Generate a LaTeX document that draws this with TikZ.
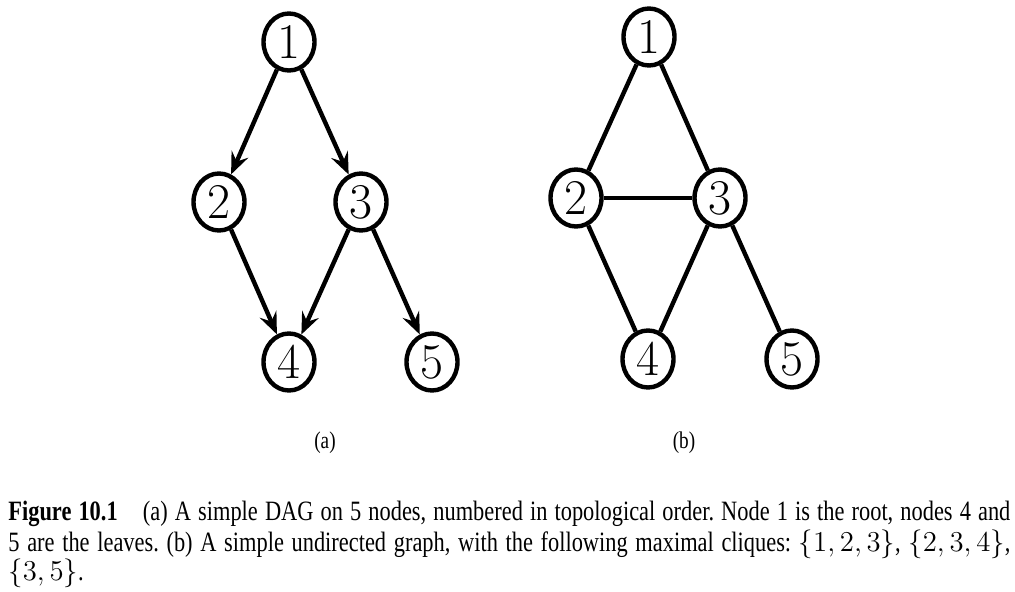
\documentclass[tikz,border=0pt]{standalone}
\usepackage{fontspec}
\newfontfamily\capfont{Liberation Serif}[FakeStretch=0.8]
\usetikzlibrary{shapes.geometric,arrows.meta}
\frenchspacing
\begin{document}
\begin{tikzpicture}[x=0.5pt,y=-0.5pt,
  vert/.style={draw,ellipse,line width=2.2pt,minimum width=25.5pt,minimum height=28.5pt,inner sep=0pt,font=\fontsize{25}{30}\selectfont},
  edge/.style={line width=2.2pt},
  arc/.style={line width=2.2pt,-{Stealth[length=11pt,width=9pt,inset=4pt]}},
  sublabel/.style={font=\capfont\fontsize{12}{14}\selectfont,inner sep=0pt},
  capline/.style={anchor=base west,inner sep=0pt,font=\capfont\fontsize{14}{16}\selectfont}]
\useasboundingbox (0,0) rectangle (1015,592);
% (a)
\node[vert] (a1) at (289,42) {1};
\node[vert] (a2) at (219,202) {2};
\node[vert] (a3) at (361,202) {3};
\node[vert] (a4) at (289,362) {4};
\node[vert] (a5) at (432,362) {5};
\draw[arc] (a1) -- (a2);
\draw[arc] (a1) -- (a3);
\draw[arc] (a2) -- (a4);
\draw[arc] (a3) -- (a4);
\draw[arc] (a3) -- (a5);
\node[sublabel] (la) at (325,443) {(a)};
% (b)
\node[vert] (b1) at (649,37) {1};
\node[vert] (b2) at (576,198) {2};
\node[vert] (b3) at (720,198) {3};
\node[vert] (b4) at (648,359) {4};
\node[vert] (b5) at (792,359) {5};
\draw[edge] (b1) -- (b2);
\draw[edge] (b1) -- (b3);
\draw[edge] (b2) -- (b3);
\draw[edge] (b2) -- (b4);
\draw[edge] (b3) -- (b4);
\draw[edge] (b3) -- (b5);
\node[sublabel] (lb) at (684,443) {(b)};
% caption
\node[capline] (c1) at (8,520)
  {\makebox[501pt][s]{\textbf{Figure 10.1}\hspace{0.9em}(a) A simple DAG on 5 nodes, numbered in topological order. Node 1 is the root, nodes 4 and}};
\node[capline] (c2) at (8,551)
  {\makebox[501pt][s]{5 are the leaves. (b) A simple undirected graph, with the following maximal cliques: $\{1,2,3\}$, $\{2,3,4\}$,}};
\node[capline] (c3) at (8,580)
  {$\{3,5\}$.};
\end{tikzpicture}
\end{document}
